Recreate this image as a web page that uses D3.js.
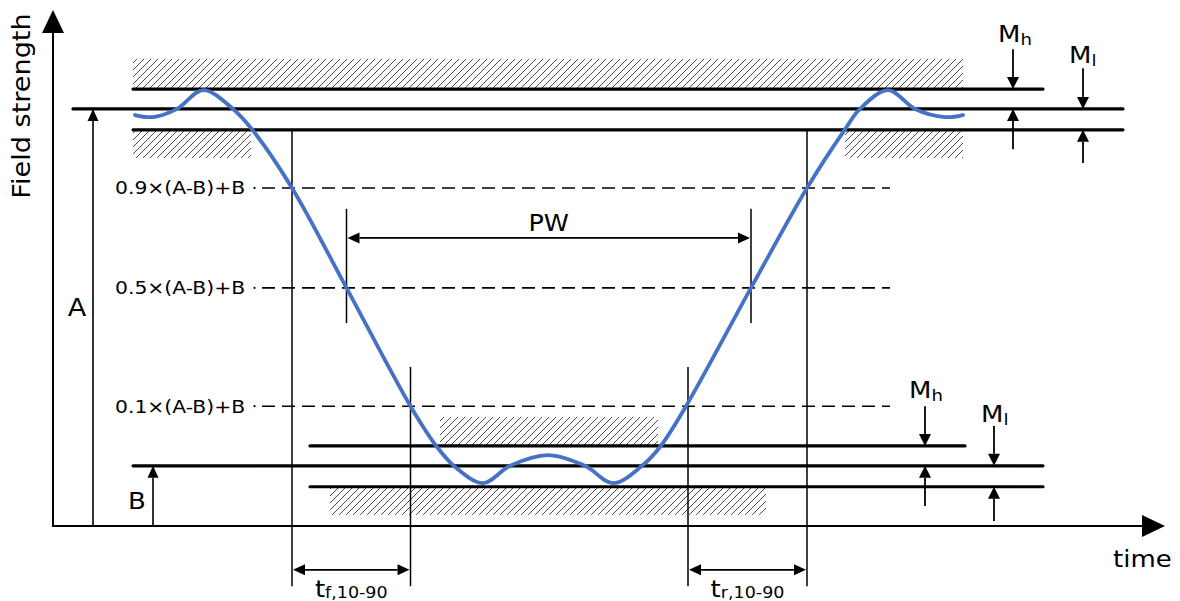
<!DOCTYPE html>
<html><head><meta charset="utf-8">
<script src="https://cdn.jsdelivr.net/npm/d3@7"></script>
<style>
body{margin:0;background:#fff}
svg{display:block}
text{font-family:"DejaVu Sans",Verdana,sans-serif;fill:#000}
</style>
</head><body>
<svg id="chart" width="1180" height="601"></svg>
<script>
// ---------- data (time units / field-strength units) ----------
const curveTime  = [8.2, 10.0, 12.4, 15.0, 18.0, 19.9, 23.9, 29.35, 35.75, 38.4, 40.2, 43.0, 45.7, 49.5, 53.2, 56.0, 58.9, 60.7, 63.3, 69.8, 75.4, 79.2, 80.7, 83.5, 86.2, 89.2, 91.0];
const curveField = [80.6, 80.2, 81.8, 85.5, 81.8, 77.8, 66.3, 46.7, 23.5, 15.5, 11.6, 8.4, 11.8, 13.9, 11.8, 8.4, 11.8, 15.5, 23.5, 46.7, 66.3, 77.8, 81.8, 85.5, 81.8, 80.2, 80.6];
const levelLabels = ["0.9×(A-B)+B", "0.5×(A-B)+B", "0.1×(A-B)+B"];
const levelValues = [66.3, 46.7, 23.5];
const fallTimes = [23.9, 29.35, 35.75];   // 90%, 50%, 10% crossings on the falling edge
const riseTimes = [75.4, 69.8, 63.5];     // 90%, 50%, 10% crossings on the rising edge
const A = 81.8, B = 11.8;
const Mh = 3.9, Ml = 4.1;
const axisLabels = ["Field strength", "time"];

// ---------- scales ----------
const svg = d3.select("#chart");
const x = d3.scaleLinear().domain([0, 111.2]).range([53, 1165]);
const y = d3.scaleLinear().domain([0, 101.2]).range([526, 10]);

// hatch pattern
const defs = svg.append("defs");
const pat = defs.append("pattern").attr("id","hatch").attr("patternUnits","userSpaceOnUse")
  .attr("width",7).attr("height",7);
pat.append("path").attr("d","M-1,8 L8,-1 M-1,1 L1,-1 M6,8 L8,6")
  .attr("stroke","#333").attr("stroke-width",0.9).attr("fill","none");

const g = svg.append("g");

function hline(t1, t2, v, w, dash){
  const l = g.append("line").attr("x1",x(t1)).attr("x2",x(t2)).attr("y1",y(v)).attr("y2",y(v))
    .attr("stroke","#000").attr("stroke-width",w).attr("stroke-linecap", dash? "butt":"round");
  if(dash) l.attr("stroke-dasharray",dash);
  return l;
}
function vline(t, v1, v2, w){
  return g.append("line").attr("x1",x(t)).attr("x2",x(t)).attr("y1",y(v1)).attr("y2",y(v2))
    .attr("stroke","#000").attr("stroke-width",w);
}
function head(px, py, ux, uy, L, W){
  const bx = px-ux*L, by = py-uy*L;
  g.append("path").attr("d",`M${px},${py}L${bx-uy*W/2},${by+ux*W/2}L${bx+uy*W/2},${by-ux*W/2}Z`).attr("fill","#000");
  return [bx,by];
}
function arrow(x1,y1,x2,y2,opt={}){
  const L=opt.L||12, W=opt.W||12, sw=opt.sw||1.8;
  const dx=x2-x1, dy=y2-y1, len=Math.hypot(dx,dy), ux=dx/len, uy=dy/len;
  const [bx,by] = head(x2,y2,ux,uy,L,W);
  let sx=x1, sy=y1;
  if(opt.both){ const r = head(x1,y1,-ux,-uy,L,W); sx=r[0]; sy=r[1]; }
  g.append("line").attr("x1",sx).attr("y1",sy).attr("x2",bx).attr("y2",by)
    .attr("stroke","#000").attr("stroke-width",sw);
}
function rect(t1,t2,v1,v2){
  g.append("rect").attr("x",x(t1)).attr("width",x(t2)-x(t1))
    .attr("y",y(v2)).attr("height",y(v1)-y(v2)).attr("fill","url(#hatch)");
}
const SX = 1.13;
function label(px, py, parts, anchor="start", rot=0){
  const tg = g.append("g").attr("transform",`translate(${px},${py}) rotate(${rot}) scale(${SX},1)`);
  const t = tg.append("text").attr("text-anchor",anchor);
  parts.forEach(p => { const s=t.append("tspan").attr("font-size",p[1]).text(p[0]); if(p[2]!==undefined) s.attr("dy",p[2]); });
  return t;
}

// ---------- hatched tolerance zones ----------
rect(8, 91, A+Mh, 91.6);
rect(8, 19.8, 72.2, A-Ml);
rect(79.2, 91, 72.2, A-Ml);
rect(38.7, 60.5, B+Mh, 21.4);
rect(27.7, 71.3, 2.2, B-Ml);

// ---------- reference levels ----------
hline(8, 99, A+Mh, 3.2);
hline(2, 107, A, 3.2);
hline(8, 107, A-Ml, 3.2);
hline(25.7, 91.2, B+Mh, 3.2);
hline(8, 99, B, 3.2);
hline(25.7, 99, B-Ml, 3.2);

// dashed threshold levels with labels
levelValues.forEach((v,i) => {
  hline(20.9, 83.7, v, 1.6, "13,7");
  g.append("circle").attr("cx",x(20.15)).attr("cy",y(v)).attr("r",1.1).attr("fill","#000");
  label(115, y(v)+6.5, [[levelLabels[i], 18]]);
});

// vertical marker lines
vline(fallTimes[0], A-Ml, -11.8, 1.5);
vline(riseTimes[0], A-Ml, -11.8, 1.5);
vline(fallTimes[1], 62.2, 39.8, 1.5);
vline(riseTimes[1], 62.2, 39.8, 1.5);
vline(fallTimes[2], 31.2, -11.8, 1.5);
vline(riseTimes[2], 31.2, -11.8, 1.5);

// PW arrow
arrow(x(fallTimes[1])+1, y(56.5), x(riseTimes[1])-1, y(56.5), {both:true, L:12, W:11, sw:1.6});
label((x(fallTimes[1])+x(riseTimes[1]))/2, y(56.5)-7, [["PW", 22.5]], "middle");

// fall / rise time arrows
arrow(x(fallTimes[0])+1, y(-8.6), x(fallTimes[2])-1, y(-8.6), {both:true, L:12, W:11, sw:1.6});
arrow(x(riseTimes[2])+1, y(-8.6), x(riseTimes[0])-1, y(-8.6), {both:true, L:12, W:11, sw:1.6});
label((x(fallTimes[0])+x(fallTimes[2]))/2, y(-13.9), [["t",23],["f,10-90",15.5,1]], "middle");
label((x(riseTimes[0])+x(riseTimes[2]))/2, y(-13.9), [["t",23],["r,10-90",15.5,1]], "middle");

// A and B arrows
arrow(x(4), y(0), x(4), y(A), {L:12, W:11, sw:1.6});
arrow(x(10), y(0), x(10), y(B), {L:12, W:11, sw:1.6});
label(x(2.4), y(41.2), [["A",24]], "middle");
label(x(8.4), y(3.4), [["B",23]], "middle");

// margin arrows (top)
arrow(x(96), y(93.5), x(96), y(A+Mh), {sw:1.8});
arrow(x(96), y(73.9), x(96), y(A), {sw:1.8});
arrow(x(103), y(89.8), x(103), y(A), {sw:1.8});
arrow(x(103), y(71.2), x(103), y(A-Ml), {sw:1.8});
label(998, 42, [["M",23],["h",16,3]]);
label(1069, 63, [["M",23],["l",16,3]]);
// margin arrows (bottom)
arrow(x(87.2), y(23.5), x(87.2), y(B+Mh), {sw:1.8});
arrow(x(87.2), y(3.9), x(87.2), y(B), {sw:1.8});
arrow(x(94.1), y(19.6), x(94.1), y(B), {sw:1.8});
arrow(x(94.1), y(1.0), x(94.1), y(B-Ml), {sw:1.8});
label(909, 398, [["M",23],["h",16,3]]);
label(981, 422, [["M",23],["l",16,3]]);

// ---------- axes ----------
arrow(x(0), y(0)+1, x(0), y(101.2), {L:23, W:22, sw:2});
arrow(x(0)-1, y(0), x(111.2), y(0), {L:23, W:22, sw:2});
label(30, 106, [[axisLabels[0],24]], "middle", -90);
label(1113, 567, [[axisLabels[1],23]]);

// ---------- signal curve ----------
const pts = curveTime.map((t,i)=>[t, curveField[i]]);
g.append("path").datum(pts)
  .attr("d", d3.line().x(d=>x(d[0])).y(d=>y(d[1])).curve(d3.curveCatmullRom.alpha(0.5)))
  .attr("fill","none").attr("stroke","#4472C4").attr("stroke-width",3.8).attr("stroke-linecap","round");
</script>
</body></html>
